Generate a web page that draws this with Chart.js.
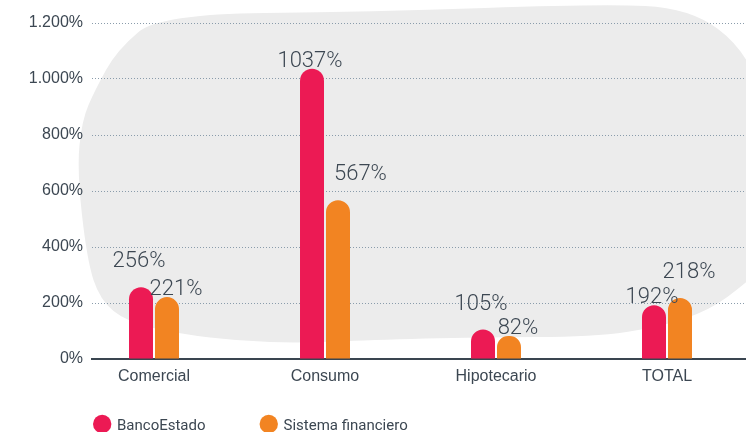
<!DOCTYPE html>
<html><head><meta charset="utf-8">
<script src="https://cdn.jsdelivr.net/npm/chart.js@4/dist/chart.umd.min.js"></script>
<style>html,body{margin:0;padding:0;background:#fff;overflow:hidden}#wrap{width:746px;height:432px;position:relative}</style>
</head><body><div id="wrap"><canvas id="c"></canvas></div>
<script>
const categories = ['Comercial', 'Consumo', 'Hipotecario', 'TOTAL'];
const seriesNames = ['BancoEstado', 'Sistema financiero'];
const bancoEstado = [256, 1037, 105, 192];
const sistemaFinanciero = [221, 567, 82, 218];
const yTicks = [0, 200, 400, 600, 800, 1000, 1200];

const COLORS = ['#ec1a54', '#f28422'];
const TEXT = '#3c4752';

function fmtTick(v) { return String(v).replace(/\B(?=(\d{3})+(?!\d))/g, '.') + '%'; }
function fmtVal(v) { return String(v) + '%'; }

const blobPlugin = {
  id: 'blob',
  beforeDraw(chart) {
    const ctx = chart.ctx;
    const pts = [[160,14],[370,12],[600,4],[690,8],[746,50],[770,120],[770,260],[746,283],[710,310],[660,327],[593,337],[480,337],[370,340],[300,343],[240,341],[180,334],[127,322],[100,300],[87,260],[77,170],[82,120],[95,90],[117,50]];
    const n = pts.length;
    const mid = (a, b) => [(a[0] + b[0]) / 2, (a[1] + b[1]) / 2];
    ctx.save();
    ctx.beginPath();
    let s = mid(pts[n - 1], pts[0]);
    ctx.moveTo(s[0], s[1]);
    for (let i = 0; i < n; i++) {
      const p = pts[i], m = mid(p, pts[(i + 1) % n]);
      ctx.quadraticCurveTo(p[0], p[1], m[0], m[1]);
    }
    ctx.closePath();
    ctx.fillStyle = '#ececec';
    ctx.fill();
    ctx.restore();
  }
};

const valuePlugin = {
  id: 'vals',
  afterDatasetsDraw(chart) {
    const ctx = chart.ctx;
    ctx.save();
    ctx.font = '300 22px Roboto';
    ctx.fillStyle = TEXT;
    ctx.textAlign = 'center';
    ctx.textBaseline = 'alphabetic';
    const m0 = chart.getDatasetMeta(0), m1 = chart.getDatasetMeta(1);
    const LIFT = 18, CAP = 16;
    categories.forEach((c, i) => {
      const b0 = m0.data[i], b1 = m1.data[i];
      const t0 = fmtVal(chart.data.datasets[0].data[i].y);
      const t1 = fmtVal(chart.data.datasets[1].data[i].y);
      let y0 = b0.y - 2, y1 = b1.y - 2;
      let x0 = b0.x - 2, x1 = b1.x + 9;
      const hw0 = b0.width / 2, hw1 = b1.width / 2;
      // label beside a taller neighbour bar: move clear of it and lift
      if (b0.y < y1 - CAP) {
        x1 = b0.x + hw0 + 10 + ctx.measureText(t1).width / 2;
        y1 -= LIFT;
      } else if (b1.y < y0 - CAP) {
        x0 = b1.x - hw1 - 10 - ctx.measureText(t0).width / 2;
        y0 -= LIFT;
      } else if (Math.abs(y0 - y1) < 22) {
        if (b0.y < b1.y) y0 -= LIFT; else y1 -= LIFT;
      }
      ctx.fillText(t0, x0, y0);
      ctx.fillText(t1, x1, y1);
    });
    ctx.restore();
  }
};

const legendPlugin = {
  id: 'leg',
  afterDraw(chart) {
    const ctx = chart.ctx;
    ctx.save();
    ctx.font = '15px Roboto';
    ctx.textAlign = 'left';
    ctx.textBaseline = 'alphabetic';
    let x = 93;
    const y = 424;
    chart.data.datasets.forEach(ds => {
      ctx.fillStyle = ds.backgroundColor;
      ctx.beginPath();
      ctx.arc(x + 9.2, y, 9.2, 0, Math.PI * 2);
      ctx.fill();
      ctx.fillStyle = TEXT;
      ctx.fillText(ds.label, x + 24, y + 6);
      x += 24 + ctx.measureText(ds.label).width + 54;
    });
    ctx.restore();
  }
};

new Chart(document.getElementById('c'), {
  type: 'bar',
  data: {
    datasets: [
      { label: seriesNames[0], data: bancoEstado.map((v, i) => ({ x: i, y: v })), backgroundColor: COLORS[0] },
      { label: seriesNames[1], data: sistemaFinanciero.map((v, i) => ({ x: i, y: v })), backgroundColor: COLORS[1] }
    ]
  },
  options: {
    responsive: true,
    maintainAspectRatio: false,
    animation: false,
    events: [],
    layout: { padding: { top: 23, left: 0, right: 0, bottom: 33 } },
    datasets: {
      bar: {
        categoryPercentage: 0.304,
        barPercentage: 0.923,
        borderRadius: { topLeft: 12, topRight: 12, bottomLeft: 0, bottomRight: 0 },
        borderSkipped: 'start'
      }
    },
    plugins: { legend: { display: false }, tooltip: { enabled: false } },
    scales: {
      x: {
        type: 'linear',
        offset: false,
        min: -0.3626,
        max: 3.462,
        grid: { display: false, drawTicks: false, offset: false },
        border: { display: true, color: '#3a4550', width: 2 },
        afterBuildTicks: s => { s.ticks = categories.map((c, i) => ({ value: i })); },
        ticks: {
          callback: v => categories[v],
          font: { family: 'Liberation Sans', size: 16 },
          color: TEXT, padding: 8, maxRotation: 0, autoSkip: false
        },
        afterFit: s => { s.height = 40; }
      },
      y: {
        min: 0,
        max: 1200,
        afterBuildTicks: s => { s.ticks = yTicks.map(v => ({ value: v })); },
        grid: { color: '#8a9cab', lineWidth: 1, drawTicks: false },
        border: { display: false, dash: [1, 2] },
        ticks: {
          callback: v => fmtTick(v),
          font: { family: 'Liberation Sans', size: 16 },
          color: TEXT, padding: 9
        },
        afterFit: s => { s.width = 92; }
      }
    }
  },
  plugins: [blobPlugin, valuePlugin, legendPlugin]
});
</script>
</body></html>
